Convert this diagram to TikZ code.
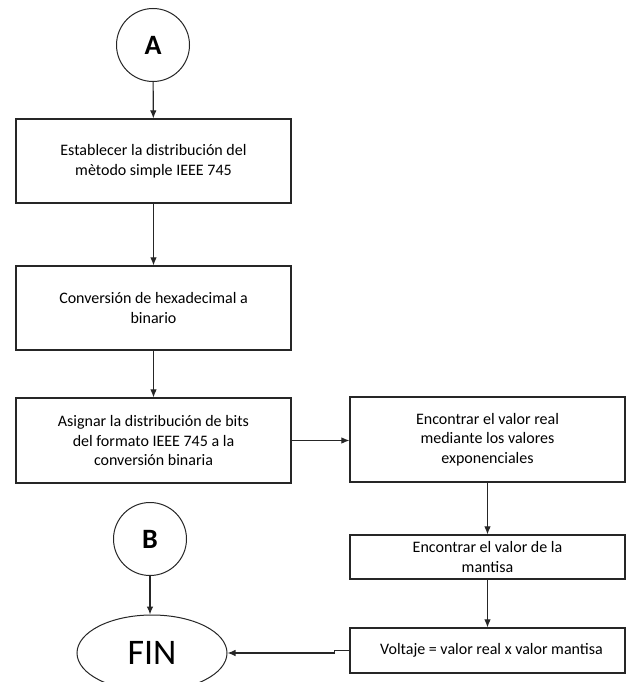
\documentclass[tikz,border=0pt]{standalone}
\usepackage{fontspec}
\setmainfont{Carlito}
\usetikzlibrary{arrows.meta,shapes.geometric}
\begin{document}
\begin{tikzpicture}[x=1pt,y=-1pt,
  box/.style={draw=black!85,line width=1.2pt,rectangle,minimum width=275pt,inner sep=2pt,align=center,font=\fontsize{16}{19.5}\selectfont},
  conn/.style={draw=black!85,line width=1pt,circle,minimum size=73pt,inner sep=0pt,font=\fontsize{28}{30}\selectfont\bfseries},
  arr/.style={-{Latex[length=8pt,width=6.5pt]},line width=1.1pt,draw=black!85}]
\clip (0,0) rectangle (632,682);
\fill[white] (0,0) rectangle (632,682);

\node[conn] (A) at (153,45) {A};
\node[box,minimum height=84pt] (b1) at (153.5,161) {Establecer la distribución del\\mètodo simple IEEE 745};
\node[box,minimum height=84pt] (b2) at (153.5,308) {Conversión de hexadecimal a\\binario};
\node[box,minimum height=85pt] (b3) at (153.5,440.5) {Asignar la distribución de bits\\del formato IEEE 745 a la\\conversión binaria};
\node[box,minimum height=85pt] (b4) at (487.5,439.5) {Encontrar el valor real\\mediante los valores\\exponenciales};
\node[box,minimum height=44pt] (b5) at (487.5,557) {Encontrar el valor de la\\mantisa};
\node[box,minimum height=45pt] (b6) at (487.5,650.5) {\hspace{8pt}Voltaje = valor real x valor mantisa};
\node[conn] (B) at (150,539) {B};
\node[ellipse,draw=black!85,line width=1pt,minimum width=150pt,minimum height=76pt,inner sep=0pt,font=\fontsize{36}{38}\selectfont] (fin) at (152,653) {FIN};

\draw[arr] (A) -- (b1);
\draw[arr] (b1) -- (b2);
\draw[arr] (b2) -- (b3);
\draw[arr] (b3.east) -- (b3.east -| b4.west);
\draw[arr] (b4) -- (b5);
\draw[arr] (b5) -- (b6);
\draw[arr] (B) -- (B |- fin.north);
\draw[arr] (b6.west) -- ++(-15,0) |- (fin.east);
\end{tikzpicture}
\end{document}
